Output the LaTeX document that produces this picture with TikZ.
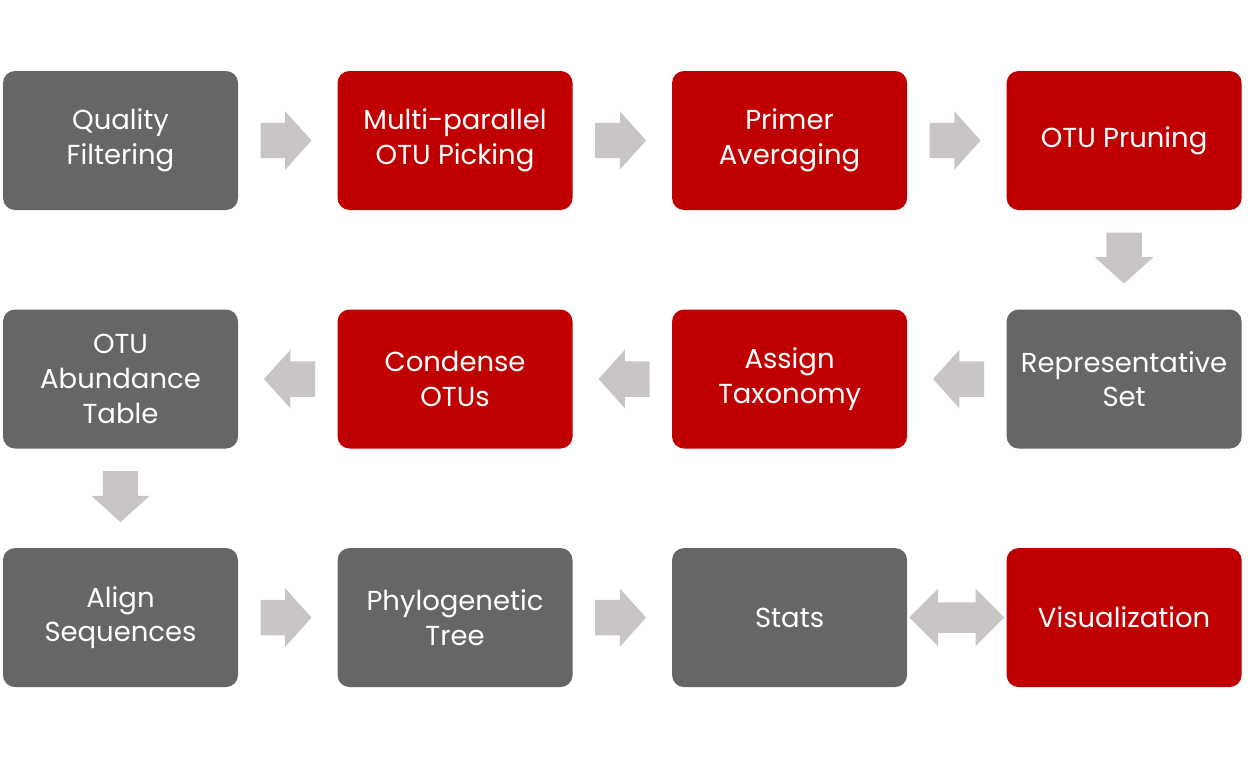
\documentclass[tikz,border=0pt]{standalone}
\usepackage{fontspec}
\setmainfont{Poppins}
\usetikzlibrary{positioning,calc,shapes.arrows}
\definecolor{boxgray}{HTML}{666666}
\definecolor{boxred}{HTML}{C00000}
\definecolor{arrowgray}{HTML}{C9C5C4}

\begin{document}
\begin{tikzpicture}[x=0.75pt,y=-0.75pt,node distance=74.25pt and 74.25pt]
  \tikzstyle{stepbox}=[rectangle,rounded corners=9pt,fill=boxgray,text=white,
                       minimum width=176.25pt,minimum height=104.25pt,
                       align=center,inner sep=0pt,font=\fontsize{20.6}{26}\selectfont]
  \tikzstyle{red stepbox}=[stepbox,fill=boxred]
  \tikzstyle{flow}=[single arrow,fill=arrowgray,inner xsep=0pt,inner ysep=13.1pt,
                    minimum height=38.25pt,anchor=tail,
                    single arrow head extend=8.6pt,single arrow tip angle=96]
  \tikzstyle{flow down}=[flow,inner xsep=13.1pt,inner ysep=0pt,shape border rotate=270]
  \tikzstyle{both ways}=[double arrow,fill=arrowgray,inner xsep=0pt,inner ysep=11.25pt,
                         minimum height=71.25pt,
                         double arrow head extend=10.1pt,double arrow tip angle=90]
  \useasboundingbox (0,0) rectangle (1255,757);

  % first row
  \node [stepbox] (filter) at (120.5,140.5) {Quality\\Filtering};
  \node [red stepbox] (pick) [right=of filter] {Multi-parallel\\OTU Picking};
  \node [red stepbox] (avg) [right=of pick] {Primer\\Averaging};
  \node [red stepbox] (prune) [right=of avg] {OTU Pruning};
  % second row
  \node [stepbox] (rep) [below=of prune] {Representative\\Set};
  \node [red stepbox] (taxon) [left=of rep] {Assign\\Taxonomy};
  \node [red stepbox] (condense) [left=of taxon] {Condense\\OTUs};
  \node [stepbox] (abund) [left=of condense] {OTU\\Abundance\\Table};
  % third row
  \node [stepbox] (align) [below=of abund] {Align\\Sequences};
  \node [stepbox] (phylo) [right=of align] {Phylogenetic\\Tree};
  \node [stepbox] (stats) [right=of phylo] {Stats};
  \node [red stepbox] (vis) [right=of stats] {Visualization};

  \foreach \a/\b/\s/\r in {filter/pick/east/0,pick/avg/east/0,avg/prune/east/0,
                           rep/taxon/west/180,taxon/condense/west/180,
                           condense/abund/west/180,align/phylo/east/0,phylo/stats/east/0}
    \node [flow,shape border rotate=\r] at ($(\a.\s)!16.5pt!(\b)$) {};
  \foreach \a/\b in {prune/rep,abund/align}
    \node [flow down] at ($(\a.south)!16.5pt!(\b)$) {};
  \node [both ways] (link) at ($(stats)!0.5!(vis)$) {};
\end{tikzpicture}
\end{document}
